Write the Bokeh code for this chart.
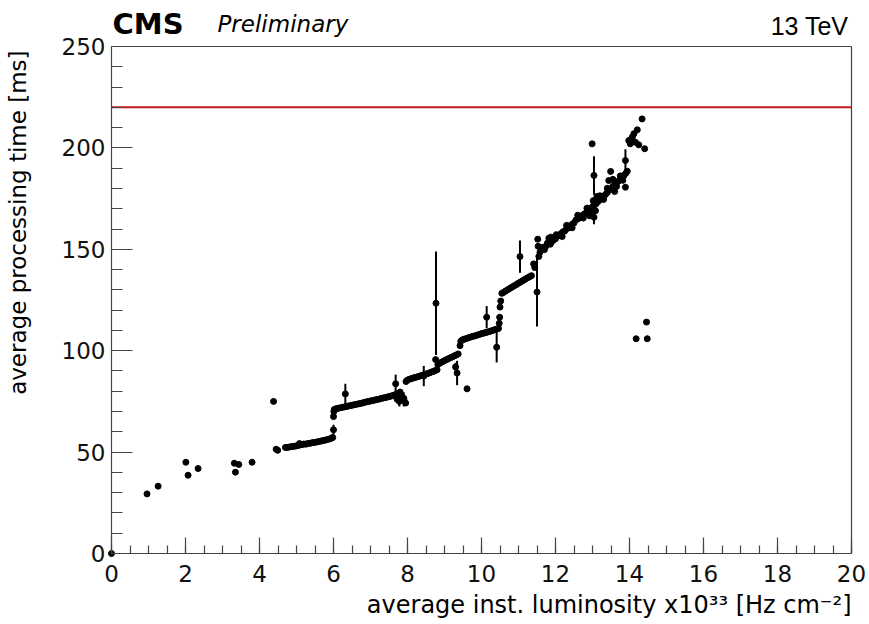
import numpy as np
from bokeh.plotting import figure
from bokeh.models import (ColumnDataSource, Label, Range1d, LinearAxis,
                          SingleIntervalTicker)
from bokeh.embed import file_html
from bokeh.resources import INLINE

# ---- measurements: average inst. luminosity (1e33 Hz/cm2) vs processing time (ms)

# isolated low-luminosity points
lumi_low = [0.0, 0.96, 1.26, 2.01, 2.07, 2.34, 3.32, 3.35, 3.44, 3.80, 4.38, 4.45, 4.49]
time_low = [0.0, 29.4, 33.2, 45.0, 38.6, 41.9, 44.5, 40.1, 43.9, 45.0, 75.0, 51.4, 50.9]

# run period 1
lumi_p1 = [4.70, 4.75, 4.80, 4.85, 4.90, 4.95, 5.00, 5.05, 5.08, 5.10, 5.15, 5.20, 5.25, 5.30,
           5.35, 5.40, 5.45, 5.50, 5.55, 5.60, 5.65, 5.70, 5.75, 5.80, 5.85, 5.90, 5.95, 5.98,
           6.00, 6.01]
time_p1 = [52.3, 52.3, 52.5, 52.6, 52.8, 52.9, 53.1, 53.3, 54.2, 53.6, 53.7, 54.0, 53.9, 54.2,
           54.3, 54.5, 54.7, 54.8, 55.0, 55.2, 55.4, 55.6, 55.8, 56.0, 56.3, 56.5, 56.9, 57.2,
           67.5, 70.0]

# run period 2
lumi_p2 = [6.02, 6.06, 6.10, 6.15, 6.20, 6.25, 6.30, 6.35, 6.40, 6.45, 6.50, 6.55, 6.60, 6.65,
           6.70, 6.75, 6.80, 6.85, 6.90, 6.95, 7.00, 7.05, 7.10, 7.15, 7.20, 7.25, 7.30, 7.35,
           7.40, 7.45, 7.50, 7.55, 7.60, 7.65, 7.70, 7.75, 7.72, 7.80, 7.85, 7.90, 7.95]
time_p2 = [71.0, 71.3, 71.5, 71.7, 71.9, 72.1, 72.3, 72.5, 72.7, 72.9, 73.1, 73.3, 73.5, 73.7,
           73.9, 74.1, 74.3, 74.6, 74.8, 75.0, 75.2, 75.4, 75.6, 75.8, 76.0, 76.2, 76.5, 76.7,
           76.9, 77.1, 77.4, 77.6, 77.9, 78.2, 78.5, 78.8, 76.0, 79.6, 77.0, 76.5, 74.2]

# run period 3
lumi_p3 = [7.96, 8.00, 8.05, 8.10, 8.15, 8.20, 8.25, 8.30, 8.35, 8.40, 8.45, 8.50, 8.55, 8.60,
           8.65, 8.70, 8.75, 8.80, 8.76, 8.82, 8.87, 8.92, 8.97, 9.02, 9.07, 9.12, 9.17, 9.22,
           9.27, 9.32, 9.37, 9.61]
time_p3 = [84.8, 85.5, 85.9, 86.2, 86.5, 86.8, 87.0, 87.3, 87.6, 87.9, 88.2, 88.5, 88.8, 89.1,
           89.5, 89.8, 90.2, 90.6, 95.6, 93.2, 93.8, 94.3, 94.8, 95.3, 95.7, 96.2, 96.6, 97.0,
           97.5, 97.9, 98.4, 81.2]

# run period 4
lumi_p4 = [9.42, 9.44, 9.48, 9.52, 9.57, 9.62, 9.67, 9.72, 9.77, 9.82, 9.87, 9.92, 9.97, 10.02,
           10.07, 10.12, 10.17, 10.22, 10.27, 10.32, 10.37, 10.42, 10.46, 10.48, 10.49, 10.50,
           10.52]
time_p4 = [102.5, 104.6, 105.3, 105.6, 105.9, 106.2, 106.5, 106.8, 107.1, 107.3, 107.6, 107.9,
           108.2, 108.5, 108.7, 109.0, 109.2, 109.5, 109.8, 110.1, 110.4, 110.7, 111.0, 113.5,
           116.5, 121.5, 124.5]

# run period 5
lumi_p5 = [10.55, 10.60, 10.65, 10.70, 10.75, 10.80, 10.85, 10.90, 10.95, 11.00, 11.05, 11.10,
           11.15, 11.20, 11.25, 11.30, 11.35, 11.41, 11.44]
time_p5 = [128.3, 128.8, 129.4, 130.0, 130.5, 131.1, 131.6, 132.2, 132.7, 133.3, 133.8, 134.4,
           134.9, 135.5, 136.0, 136.5, 137.0, 142.8, 141.0]

# run period 6
lumi_p6 = [11.52, 11.53, 11.55, 11.58, 11.62, 11.66, 11.70, 11.74, 11.78, 11.82, 11.86, 11.90,
           11.95, 12.00, 12.05, 12.10, 12.15, 12.20, 12.25, 12.30, 12.35, 12.40, 12.45, 12.50,
           12.55, 12.60, 12.65, 12.70, 12.75, 12.80, 12.85, 12.90, 12.95, 13.00, 13.05, 13.10,
           13.15, 13.20, 13.25, 13.30, 13.35, 13.40, 13.45, 13.50, 13.55, 13.60, 13.65, 13.70,
           13.75, 13.80, 13.85, 13.90, 13.94, 12.92, 13.00, 13.02, 13.08, 13.12, 12.99, 13.44,
           13.49, 13.55, 13.60, 13.89,
           11.88, 12.02, 12.18, 12.30, 12.45, 12.60, 12.75, 12.85, 13.20, 13.30, 13.40, 13.65,
           13.75, 13.82]
time_p6 = [155.0, 151.5, 146.5, 148.5, 150.2, 151.0, 149.8, 151.5, 153.0, 155.5, 152.5, 153.8,
           154.6, 155.2, 156.5, 157.0, 157.8, 158.6, 159.0, 160.2, 160.5, 161.6, 162.3, 163.0,
           164.4, 165.0, 165.5, 166.4, 167.0, 167.6, 168.5, 169.0, 170.0, 171.0, 171.8, 172.5,
           173.6, 174.4, 175.0, 176.2, 177.0, 178.0, 179.2, 180.0, 181.0, 181.8, 182.8, 183.6,
           184.5, 185.5, 186.4, 187.5, 188.5, 166.5, 168.0, 174.0, 169.0, 176.0, 202.0, 183.9,
           188.4, 184.5, 178.5, 180.6,
           156.0, 157.2, 156.3, 161.8, 160.6, 166.8, 165.4, 170.3, 176.4, 174.6, 180.1, 181.0,
           186.2, 184.0]

# highest-luminosity points
lumi_high = [13.98, 14.02, 14.05, 14.08, 14.12, 14.16, 14.21, 14.25, 14.34, 14.41,
             14.46, 14.18, 14.48]
time_high = [203.6, 202.0, 204.5, 205.5, 207.0, 202.8, 208.9, 201.5, 214.3, 199.6,
             114.1, 105.9, 105.9]

# points with a visible uncertainty
lumi_bar = [6.00, 6.32, 7.68, 7.78, 7.90, 8.44, 8.77, 9.30, 9.34, 10.14, 10.41, 11.04,
            11.50, 13.04, 13.04, 13.89]
time_bar = [61.0, 78.7, 83.7, 75.0, 76.0, 87.5, 123.4, 92.0, 89.0, 116.5, 101.7, 146.4,
            128.9, 165.8, 186.4, 193.8]
err_bar = [2.5, 5.0, 4.5, 2.5, 3.5, 5.0, 25.5, 2.0, 6.0, 5.5, 7.5, 8.0,
           17.0, 3.5, 9.5, 5.5]

time_budget = 220.0

x_tick_interval = 2
y_tick_interval = 50

# ---- page geometry (pixels); the data frame sits inside the full canvas
W, H = 869, 624
LEFT, RIGHT, TOP, BOTTOM = 111, 18, 46, 71
X0, X1, Y0, Y1 = 0.0, 20.0, 0.0, 250.0
sx = (W - LEFT - RIGHT) / (X1 - X0)
sy = (H - TOP - BOTTOM) / (Y1 - Y0)
TEXT_SHIFT = 10  # baseline correction for label placement


def xd(px):
    return X0 + (px - LEFT) / sx


def yd(py):
    return Y0 + (H - BOTTOM - py) / sy


p = figure(width=W, height=H,
           x_range=Range1d(xd(0), xd(W)), y_range=Range1d(yd(H), yd(0)),
           x_axis_type=None, y_axis_type=None,
           output_backend="svg", toolbar_location=None,
           min_border_left=0, min_border_right=0, min_border_top=0, min_border_bottom=0)
p.grid.visible = False
p.outline_line_color = None
p.background_fill_color = "white"
p.border_fill_color = "white"

AXIS_COLOR = "#444444"
TICK_FONT = "DejaVu Sans"

xaxis = LinearAxis(fixed_location=Y0, bounds=(X0, X1),
                   ticker=SingleIntervalTicker(interval=x_tick_interval, num_minor_ticks=4))
yaxis = LinearAxis(fixed_location=X0, bounds=(Y0, Y1),
                   ticker=SingleIntervalTicker(interval=y_tick_interval, num_minor_ticks=5))
for ax in (xaxis, yaxis):
    ax.axis_line_color = AXIS_COLOR
    ax.axis_line_width = 1.2
    ax.major_tick_line_color = AXIS_COLOR
    ax.minor_tick_line_color = AXIS_COLOR
    ax.major_tick_line_width = 1.2
    ax.minor_tick_line_width = 1.2
    ax.major_tick_out = 0
    ax.minor_tick_out = 0
    ax.major_label_text_font = TICK_FONT
    ax.major_label_text_font_size = "23px"
    ax.major_label_text_color = "#111111"
xaxis.major_tick_in = 16
xaxis.minor_tick_in = 8
xaxis.major_label_standoff = 11
yaxis.major_tick_in = 21
yaxis.minor_tick_in = 11
yaxis.major_label_standoff = 6
p.add_layout(xaxis, "below")
p.add_layout(yaxis, "left")

# top and right edges of the frame
p.multi_line(xs=[[X0, X1], [X1, X1]], ys=[[Y1, Y1], [Y0, Y1]],
             line_color=AXIS_COLOR, line_width=1.2)

# processing-time budget
p.segment(x0=[X0], y0=[time_budget], x1=[X1], y1=[time_budget],
          line_color="#bf1b1b", line_width=2)

# error bars
lo = [t - e for t, e in zip(time_bar, err_bar)]
hi = [t + e for t, e in zip(time_bar, err_bar)]
bars = ColumnDataSource(dict(x=lumi_bar, lo=lo, hi=hi, y=time_bar))
p.segment(x0="x", y0="lo", x1="x", y1="hi", source=bars, line_color="black", line_width=2)

# all measurements
all_lumi = (lumi_low + lumi_p1 + lumi_p2 + lumi_p3 + lumi_p4 + lumi_p5 + lumi_p6
            + lumi_high + lumi_bar)
all_time = (time_low + time_p1 + time_p2 + time_p3 + time_p4 + time_p5 + time_p6
            + time_high + time_bar)
pts = ColumnDataSource(dict(x=all_lumi, y=all_time))
p.scatter(x="x", y="y", source=pts, size=6, marker="circle", fill_color="black",
          line_color="black")

# texts
p.add_layout(Label(x=xd(112), y=yd(33 - TEXT_SHIFT), text="CMS", text_font="DejaVu Sans",
                   text_font_style="bold", text_font_size="29px", text_color="black",
                   text_baseline="alphabetic", text_align="left"))
p.add_layout(Label(x=xd(217), y=yd(33 - TEXT_SHIFT), text="Preliminary",
                   text_font="DejaVu Sans", text_font_style="italic",
                   text_font_size="23px", text_color="black",
                   text_baseline="alphabetic", text_align="left"))
p.add_layout(Label(x=xd(848), y=yd(35 - TEXT_SHIFT), text="13 TeV",
                   text_font="Liberation Sans", text_font_size="25px", text_color="black",
                   text_baseline="alphabetic", text_align="right"))
p.add_layout(Label(x=xd(851), y=yd(614 - TEXT_SHIFT),
                   text="average inst. luminosity x10\u00b3\u00b3 [Hz cm\u207b\u00b2]",
                   text_font="DejaVu Sans", text_font_size="24px", text_color="black",
                   text_baseline="alphabetic", text_align="right"))
p.add_layout(Label(x=xd(27 - TEXT_SHIFT), y=yd(50), angle=np.pi / 2,
                   text="average processing time [ms]",
                   text_font="DejaVu Sans", text_font_size="23px", text_color="black",
                   text_baseline="alphabetic", text_align="right"))

open("out.html", "w").write(file_html(p, INLINE))
